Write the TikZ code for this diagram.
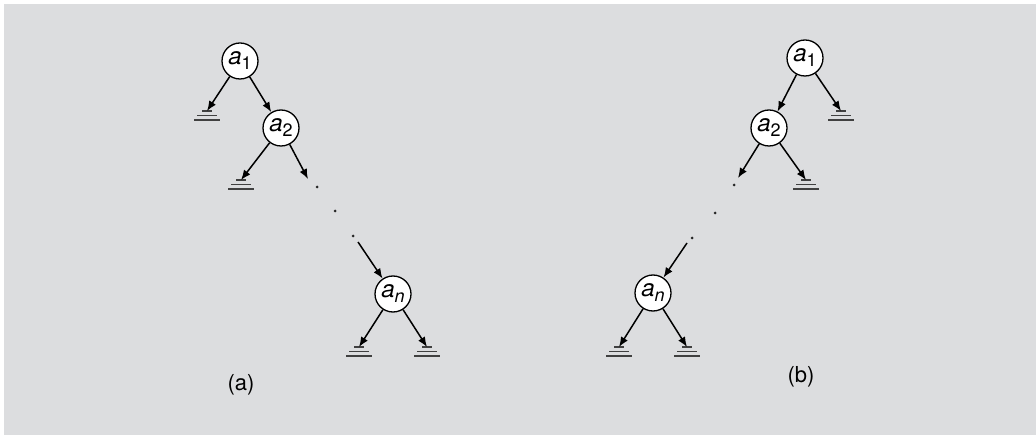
\documentclass[tikz,border=0pt]{standalone}
\usepackage{fontspec}
\setmainfont{TeX Gyre Heros}
\usepackage{tikz}
\usetikzlibrary{calc,arrows.meta,positioning}
\definecolor{panelgray}{HTML}{DCDDDF}
\colorlet{gndcol}{black!75}
\newcommand{\akey}[1]{{\itshape a}\raisebox{-0.4ex}{\fontsize{18}{19}\selectfont #1}}

\begin{document}
\begin{tikzpicture}[x=1pt, y=-1pt,
    key/.style={circle, draw, fill=white, line width=1.3pt, minimum size=36pt, inner sep=0pt,
      font=\fontsize{24}{26}\selectfont},
    link/.style={line width=1.5pt, -{Latex[length=10pt, width=8pt]}},
    dotmark/.style={fill=black!85},
    caption/.style={font=\fontsize{22}{24}\selectfont},
    gnd/.pic={
      \draw[gndcol, line width=2pt] (-5,0) -- (5,0);
      \draw[gndcol, line width=1.4pt] (-10,4.5) -- (10,4.5);
      \draw[gndcol, line width=1.4pt] (-13,9) -- (13,9);
    }]
        % Frame and gray panel
        \useasboundingbox (0,0) rectangle (1036,435);
        \fill[panelgray] (4,4) rectangle (1036,435);
        % ----- Tree (a): right-leaning chain
        \node[key] (A1) at (240,61) {\akey{1}};
        \node[key] (A2) at (281,128) {\akey{2}};
        \node[key] (An) at (393,294) {\akey{\itshape n}};
        \coordinate (gA1) at (207,111);
        \coordinate (gA2) at (241,180);
        \coordinate (gAnL) at (359,347);
        \coordinate (gAnR) at (427,347);
        \coordinate (A2r) at (308,179);
        \coordinate (Anin) at (358,242);
        \foreach \g in {gA1,gA2,gAnL,gAnR} \pic at (\g) {gnd};
        \draw[link] (A1) -- (gA1);
        \draw[link] (A1) -- (A2);
        \draw[link] (A2) -- (gA2);
        \draw[link] (A2) -- (A2r);
        \foreach \p in {(317,187),(335,211),(353,236)} \fill[dotmark] \p circle (1.5);
        \draw[link] (Anin) -- (An);
        \draw[link] (An) -- (gAnL);
        \draw[link] (An) -- (gAnR);
        \node[caption] (capA) at (241,385) {(a)};
        % ----- Tree (b): left-leaning chain
        \node[key] (B1) at (805,58) {\akey{1}};
        \node[key] (B2) at (769,128) {\akey{2}};
        \node[key] (Bn) at (653,293) {\akey{\itshape n}};
        \coordinate (gB1) at (841,111);
        \coordinate (gB2) at (806,180);
        \coordinate (gBnL) at (619,347);
        \coordinate (gBnR) at (687,347);
        \coordinate (B2l) at (738,178);
        \coordinate (Bnin) at (687,243);
        \foreach \g in {gB1,gB2,gBnL,gBnR} \pic at (\g) {gnd};
        \draw[link] (B1) -- (B2);
        \draw[link] (B1) -- (gB1);
        \draw[link] (B2) -- (B2l);
        \draw[link] (B2) -- (gB2);
        \foreach \p in {(734,185),(715,213),(692,238)} \fill[dotmark] \p circle (1.5);
        \draw[link] (Bnin) -- (Bn);
        \draw[link] (Bn) -- (gBnL);
        \draw[link] (Bn) -- (gBnR);
        \node[caption] (capB) at (801,377) {(b)};
\end{tikzpicture}
\end{document}
